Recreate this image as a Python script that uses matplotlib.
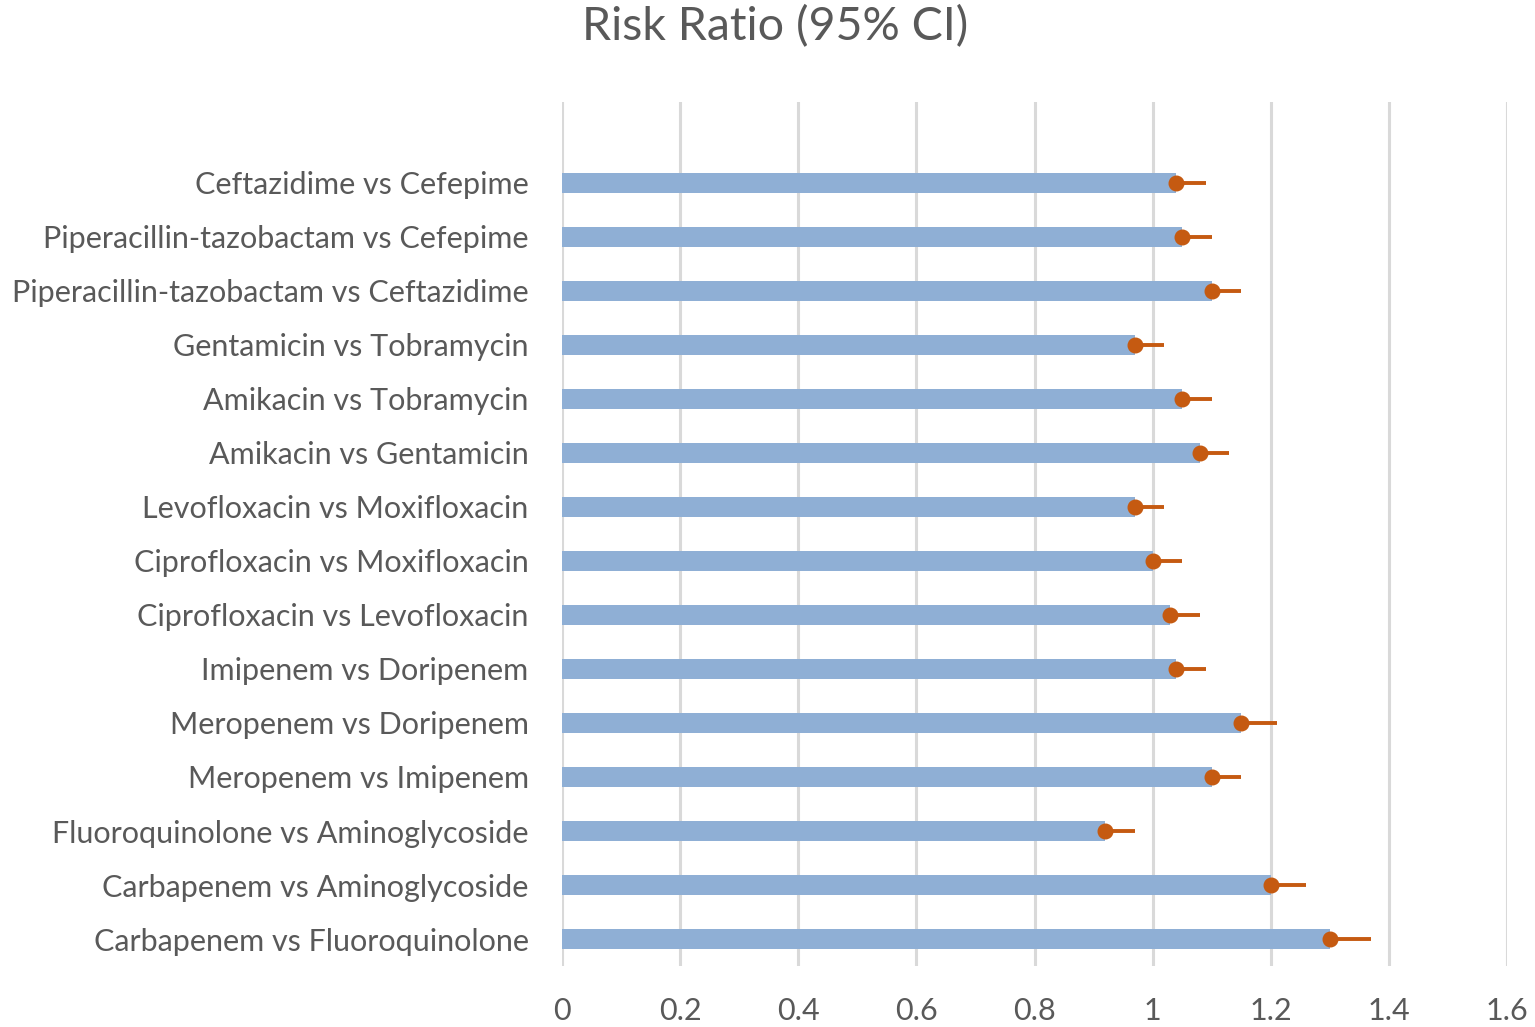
import matplotlib
matplotlib.use("Agg")
import matplotlib.pyplot as plt
import numpy as np

categories = [
    "Ceftazidime vs Cefepime",
    "Piperacillin-tazobactam vs Cefepime",
    "Piperacillin-tazobactam vs Ceftazidime",
    "Gentamicin vs Tobramycin",
    "Amikacin vs Tobramycin",
    "Amikacin vs Gentamicin",
    "Levofloxacin vs Moxifloxacin",
    "Ciprofloxacin vs Moxifloxacin",
    "Ciprofloxacin vs Levofloxacin",
    "Imipenem vs Doripenem",
    "Meropenem vs Doripenem",
    "Meropenem vs Imipenem",
    "Fluoroquinolone vs Aminoglycoside",
    "Carbapenem vs Aminoglycoside",
    "Carbapenem vs Fluoroquinolone",
]
risk_ratio = [1.04, 1.05, 1.10, 0.97, 1.05, 1.08, 0.97, 1.00, 1.03, 1.04, 1.15, 1.10, 0.92, 1.20, 1.30]
upper_ci = [1.09, 1.10, 1.15, 1.02, 1.10, 1.13, 1.02, 1.05, 1.08, 1.09, 1.21, 1.15, 0.97, 1.26, 1.37]
xticks = [0, 0.2, 0.4, 0.6, 0.8, 1, 1.2, 1.4, 1.6]
xtick_labels = ["0", "0.2", "0.4", "0.6", "0.8", "1", "1.2", "1.4", "1.6"]

plt.rcParams['font.family'] = ['Lato', 'DejaVu Sans']

fig = plt.figure(figsize=(15.35, 10.27), dpi=100)
ax = fig.add_axes([562/1535, 1-966/1027, (1507-562)/1535, (966-102)/1027])

n = len(categories)
ypos = np.arange(n)[::-1]  # first category on top
rr = np.array(risk_ratio)
up = np.array(upper_ci)

ax.barh(ypos, rr, height=0.36, color="#8FAFD5", zorder=2)
ax.errorbar(rr, ypos, xerr=[np.zeros(n), up - rr], fmt="none",
            ecolor="#C55A11", elinewidth=2.8, capsize=0, zorder=3)
ax.plot(rr, ypos, "o", color="#C55A11", markersize=10.5, zorder=4)

ax.set_xlim(0, 1.6)
ax.set_ylim(-0.5, n + 0.5)
ax.set_xticks(xticks)
ax.set_xticklabels(xtick_labels)
ax.set_yticks(ypos)
ax.set_yticklabels(categories)

ax.grid(axis="x", color="#D9D9D9", linewidth=2.2, zorder=0)
ax.set_axisbelow(True)
for s in ax.spines.values():
    s.set_visible(False)
ax.tick_params(axis="both", length=0, colors="#595959")
ax.tick_params(axis="y", labelsize=22, pad=24)
ax.tick_params(axis="x", labelsize=22, pad=22)

fig.text(775/1535, 1-27/1027, "Risk Ratio (95% CI)", ha="center", va="center",
         fontsize=33.5, color="#595959")

fig.savefig("out.png", dpi=100)
